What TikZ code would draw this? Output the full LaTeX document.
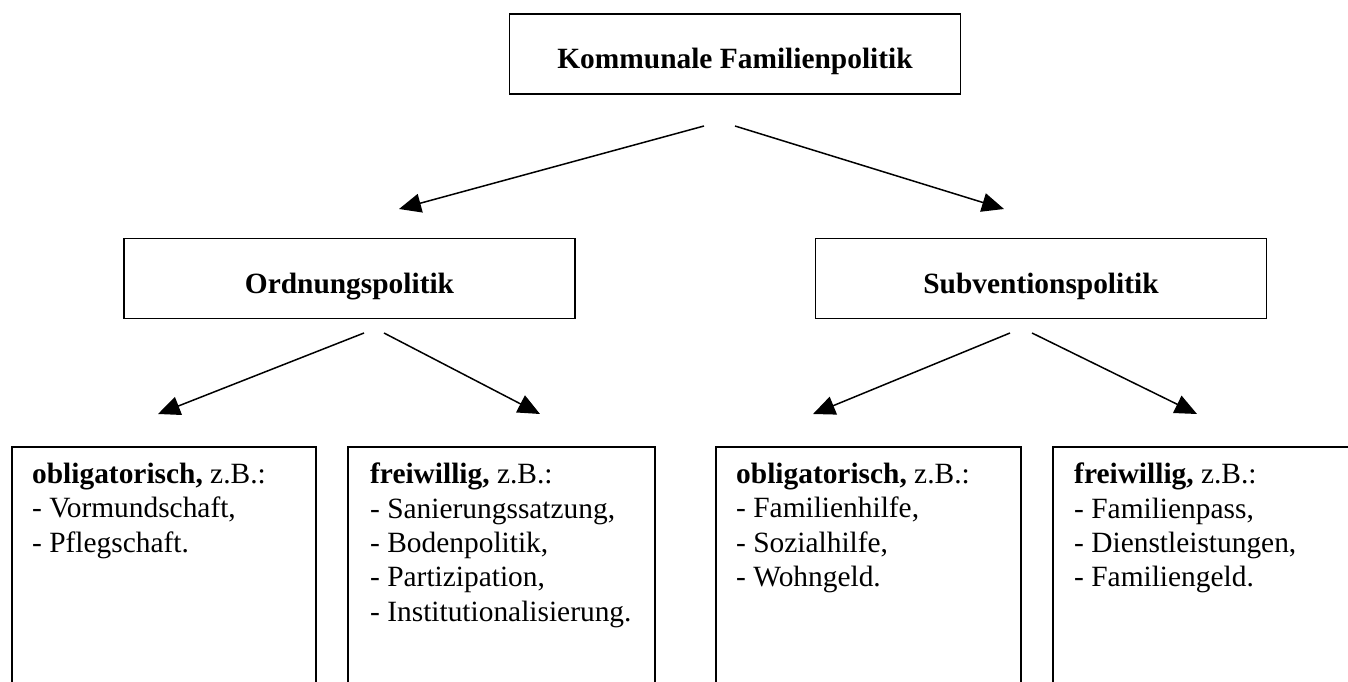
\documentclass[tikz,border=0pt]{standalone}
\usepackage{fontspec}
\setmainfont{Liberation Serif}
\usetikzlibrary{arrows.meta}

\begin{document}
\begin{tikzpicture}[x=1pt, y=-1pt,
    levelbox/.style={draw=borderColour, line width=1.8pt, minimum width=451pt, minimum height=80pt,
        text height=36pt, text depth=6pt, font=\fontsize{29.4}{34.3}\selectfont\bfseries},
    listbox/.style={draw=borderColour, line width=1.8pt},
    listtext/.style={anchor=north west, inner sep=0pt, align=left, font=\fontsize{29.4}{34.3}\selectfont},
    arrow/.style={draw=borderColour, line width=1.5pt, -{Triangle[length=22pt,width=19pt]}}]

    % Define colours
    \definecolor{borderColour}{HTML}{000000}

    % Page size
    \useasboundingbox (0,0) rectangle (1348,682);
    \clip (0,0) rectangle (1348,682);

    % Draw the three upper boxes
    \node[levelbox] (kfp) at (735,54) {Kommunale Familienpolitik};
    \node[levelbox] (ord) at (349.5,278.5) {Ordnungspolitik};
    \node[levelbox] (sub) at (1041,278.5) {Subventionspolitik};

    % Draw the four lower boxes (they run off the page)
    \draw[listbox] (12,447) rectangle (316,720);
    \draw[listbox] (348,447) rectangle (655,720);
    \draw[listbox] (716,447) rectangle (1021,720);
    \draw[listbox] (1053,447) rectangle (1370,720);

    % Texts of the lower boxes
    \node[listtext] (oblOrd) at (32,463) {\textbf{obligatorisch,} z.B.:\\- Vormundschaft,\\- Pflegschaft.};
    \node[listtext] (freiOrd) at (370,463) {\textbf{freiwillig,} z.B.:\\- Sanierungssatzung,\\- Bodenpolitik,\\- Partizipation,\\- Institutionalisierung.};
    \node[listtext] (oblSub) at (736,463) {\textbf{obligatorisch,} z.B.:\\- Familienhilfe,\\- Sozialhilfe,\\- Wohngeld.};
    \node[listtext] (freiSub) at (1074,463) {\textbf{freiwillig,} z.B.:\\- Familienpass,\\- Dienstleistungen,\\- Familiengeld.};

    % Arrow ends
    \coordinate (kfpL) at (704,126);
    \coordinate (kfpR) at (735,126);
    \coordinate (ordTip) at (399,209);
    \coordinate (subTip) at (1004,209);
    \coordinate (ordL) at (364,333);
    \coordinate (ordR) at (384,333);
    \coordinate (subL) at (1010,333);
    \coordinate (subR) at (1032,333);
    \coordinate (oblOrdTip) at (158,414);
    \coordinate (freiOrdTip) at (540,414);
    \coordinate (oblSubTip) at (813,414);
    \coordinate (freiSubTip) at (1197,414);

    % Draw arrows
    \draw[arrow] (kfpL) -- (ordTip);
    \draw[arrow] (kfpR) -- (subTip);
    \draw[arrow] (ordL) -- (oblOrdTip);
    \draw[arrow] (ordR) -- (freiOrdTip);
    \draw[arrow] (subL) -- (oblSubTip);
    \draw[arrow] (subR) -- (freiSubTip);

\end{tikzpicture}
\end{document}
